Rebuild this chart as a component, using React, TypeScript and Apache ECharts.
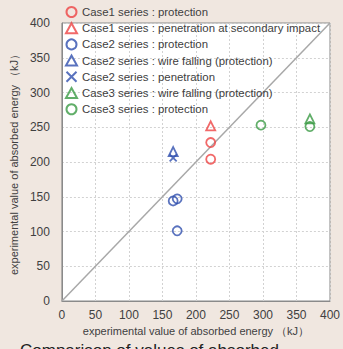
import React, { useEffect, useRef } from "react";
import * as echarts from "echarts";

const RED = "#ee4444";
const BLUE = "#2f4fae";
const GREEN = "#3a9a44";

const seriesNames = [
  "Case1 series : protection",
  "Case1 series : penetration at secondary impact",
  "Case2 series : protection",
  "Case2 series : wire falling (protection)",
  "Case2 series : penetration",
  "Case3 series : wire falling (protection)",
  "Case3 series : protection",
];

const case1Protection = [
  [222, 228],
  [222, 204],
];
const case1Penetration2nd = [[222, 252]];
const case2Protection = [
  [166, 144],
  [172, 147],
  [172, 101],
];
const case2WireFalling = [[166, 215]];
const case2Penetration = [[166, 206]];
const case3WireFalling = [[370, 262]];
const case3Protection = [
  [297, 253],
  [370, 251],
];
const diagonal = [
  [0, 0],
  [400, 400],
];
const axisTicks = [0, 400, 50]; // min, max, interval

const xTitle = "experimental value of absorbed energy （kJ）";
const yTitle = "experimental value of absorbed energy （kJ）";
const caption = "Comparison of values of absorbed";

const CROSS = "path://M0,0L10,10M10,0L0,10";

export default function App() {
  const ref = useRef<HTMLDivElement>(null);
  useEffect(() => {
    const chart = echarts.init(ref.current!, undefined, { renderer: "svg" });
    const mk = (name: string, data: number[][], symbol: string, color: string, size: number) => ({
      name,
      type: "scatter",
      data,
      symbol,
      symbolSize: size,
      itemStyle: { color: "rgba(0,0,0,0)", borderColor: color, borderWidth: 1.8 },
      z: 5,
    });
    const axisCommon = {
      type: "value",
      min: axisTicks[0],
      max: axisTicks[1],
      interval: axisTicks[2],
      axisLine: { show: true, lineStyle: { color: "#8a8a8a", width: 1 } },
      axisTick: { show: false },
      splitLine: { show: true, lineStyle: { color: "#d2d2d2", type: [2, 2] } },
      axisLabel: { color: "#404040", fontSize: 12, fontFamily: "Liberation Sans, Arial" },
      nameTextStyle: { color: "#404040", fontSize: 11, fontFamily: "Liberation Sans, Arial" },
    };
    chart.setOption({
      animation: false,
      backgroundColor: "#f0e7e0",
      grid: {
        left: 60,
        right: 12,
        top: 23,
        bottom: 48,
        show: true,
        backgroundColor: "#ffffff",
        borderColor: "#8a8a8a",
        borderWidth: 1,
      },
      legend: {
        data: seriesNames,
        orient: "vertical",
        left: 65,
        top: 6,
        padding: 0,
        itemWidth: 11,
        itemHeight: 10,
        itemGap: 4.2,
        textStyle: { color: "#404040", fontSize: 11.4, fontFamily: "Liberation Sans, Arial", padding: [0, 0, 0, 0] },
        selectedMode: false,
      },
      xAxis: {
        ...axisCommon,
        name: xTitle,
        nameLocation: "middle",
        nameGap: 22,
        axisLabel: { ...axisCommon.axisLabel, margin: 8 },
      },
      yAxis: {
        ...axisCommon,
        name: yTitle,
        nameLocation: "middle",
        nameGap: 38,
        axisLabel: { ...axisCommon.axisLabel, margin: 12 },
      },
      graphic: [
        {
          type: "text",
          left: 20,
          top: 342,
          style: { text: caption, fontSize: 17, fill: "#222", fontFamily: "Liberation Sans, Arial" },
        },
      ],
      series: [
        {
          name: "diag",
          type: "line",
          data: diagonal,
          symbol: "none",
          silent: true,
          lineStyle: { color: "#a8a8a8", width: 1.5 },
          z: 2,
        },
        mk(seriesNames[0], case1Protection, "circle", RED, 9),
        mk(seriesNames[1], case1Penetration2nd, "triangle", RED, 9),
        mk(seriesNames[2], case2Protection, "circle", BLUE, 9),
        mk(seriesNames[3], case2WireFalling, "triangle", BLUE, 9),
        mk(seriesNames[4], case2Penetration, CROSS, BLUE, 7),
        mk(seriesNames[5], case3WireFalling, "triangle", GREEN, 9),
        mk(seriesNames[6], case3Protection, "circle", GREEN, 9),
      ],
    });
    return () => chart.dispose();
  }, []);
  return (
    <div
      ref={ref}
      style={{ position: "absolute", left: 0, top: 0, width: 343, height: 349 }}
    />
  );
}
